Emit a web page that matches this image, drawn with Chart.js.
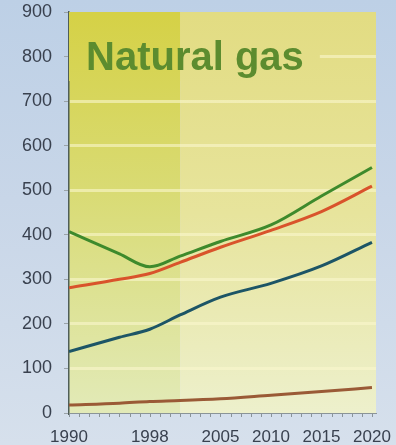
<!DOCTYPE html>
<html>
<head>
<meta charset="utf-8">
<script src="https://cdn.jsdelivr.net/npm/chart.js@4.4.1/dist/chart.umd.min.js"></script>
<style>
  html, body { margin: 0; padding: 0; }
  body {
    width: 396px; height: 445px; overflow: hidden;
    background: linear-gradient(180deg, #bdd0e6 0%, #c8d6e8 45%, #d6e0ec 100%);
  }
  canvas { display: block; }
</style>
</head>
<body>
<canvas id="gasChart" width="396" height="445"></canvas>
<script>
// Natural gas series, by year
const years = [1990, 1995, 1998, 2001, 2005, 2010, 2015, 2020];
const greenSeries = [407, 357, 328, 352, 385, 422, 487, 551];
const redSeries = [281, 300, 313, 338, 372, 410, 452, 509];
const blueSeries = [138, 170, 188, 220, 260, 291, 330, 383];
const brownSeries = [18, 22, 26, 28, 32, 40, 48, 57];
const xTickYears = [1990, 1998, 2005, 2010, 2015, 2020];
const historyEnd = 2001;
const titleText = 'Natural gas';

const toPoints = vals => vals.map((v, i) => ({ x: years[i], y: v }));

// paints the two shaded background bands (history / outlook)
function paintBands(chart, clip) {
  const { ctx, chartArea: a, scales: { x } } = chart;
  const split = x.getPixelForValue(historyEnd);
  ctx.save();
  if (clip) {
    ctx.beginPath();
    ctx.rect(clip.left, clip.top, clip.right - clip.left, clip.bottom - clip.top);
    ctx.clip();
  }
  let g = ctx.createLinearGradient(0, a.top, 0, a.bottom);
  g.addColorStop(0, '#d5d146');
  g.addColorStop(0.45, '#d9db74');
  g.addColorStop(1, '#e2eab8');
  ctx.fillStyle = g;
  ctx.fillRect(a.left, a.top, split - a.left, a.bottom - a.top);
  g = ctx.createLinearGradient(0, a.top, 0, a.bottom);
  g.addColorStop(0, '#e2dc82');
  g.addColorStop(0.5, '#e7e49c');
  g.addColorStop(1, '#edf0cc');
  ctx.fillStyle = g;
  ctx.fillRect(split, a.top, a.right - split, a.bottom - a.top);
  ctx.restore();
}

const backdrop = {
  id: 'backdrop',
  beforeDraw(chart) {
    paintBands(chart);
  },
  beforeDatasetsDraw(chart) {
    const { ctx, chartArea: a, scales: { y } } = chart;
    ctx.save();
    ctx.font = 'bold 40px "Liberation Sans", Arial, sans-serif';
    const w = ctx.measureText(titleText).width;
    const left = a.left + 17;
    const base = y.getPixelForValue(770);
    // mask the grid behind the heading
    paintBands(chart, { left: a.left, top: a.top, right: left + w + 16, bottom: y.getPixelForValue(745) });
    ctx.fillStyle = '#5c8c2f';
    ctx.textBaseline = 'alphabetic';
    ctx.fillText(titleText, left, base);
    ctx.restore();
  },
  afterDraw(chart) {
    // yearly minor ticks along the bottom axis
    const { ctx, chartArea: a, scales: { x } } = chart;
    ctx.save();
    ctx.strokeStyle = '#8a9498';
    ctx.lineWidth = 1;
    for (let yr = 1990; yr <= 2020; yr++) {
      const px = Math.round(x.getPixelForValue(yr)) + 0.5;
      ctx.beginPath();
      ctx.moveTo(px, a.bottom);
      ctx.lineTo(px, a.bottom + 4);
      ctx.stroke();
    }
    ctx.restore();
  }
};

const lineStyle = color => ({
  borderColor: color,
  borderWidth: 3,
  pointRadius: 0,
  fill: false,
  cubicInterpolationMode: 'monotone'
});

new Chart(document.getElementById('gasChart').getContext('2d'), {
  type: 'line',
  data: {
    datasets: [
      { label: 'brown', data: toPoints(brownSeries), ...lineStyle('#9a5a36') },
      { label: 'blue', data: toPoints(blueSeries), ...lineStyle('#1d5566') },
      { label: 'red', data: toPoints(redSeries), ...lineStyle('#d9532b') },
      { label: 'green', data: toPoints(greenSeries), ...lineStyle('#3e8a2c') }
    ]
  },
  options: {
    responsive: false,
    animation: false,
    layout: { padding: { top: 12, right: 20, left: 0, bottom: 0 } },
    plugins: { legend: { display: false }, tooltip: { enabled: false } },
    scales: {
      x: {
        type: 'linear',
        min: 1990,
        max: 2020.4,
        afterBuildTicks: s => { s.ticks = xTickYears.map(v => ({ value: v })); },
        afterFit: s => { s.height = 32; s.paddingRight = 0; s.paddingLeft = 0; },
        grid: { display: false },
        border: { display: true, color: '#8a9498', width: 1 },
        ticks: {
          padding: 6,
          color: '#39414f',
          font: { family: '"Liberation Sans", Arial, sans-serif', size: 17 },
          maxRotation: 0,
          autoSkip: false,
          callback: v => String(v)
        }
      },
      y: {
        min: 0,
        max: 900,
        afterFit: s => { s.width = 69; s.paddingTop = 0; s.paddingBottom = 0; },
        grid: {
          color: ctx => (ctx.tick.value === 0 || ctx.tick.value === 900) ? 'rgba(0,0,0,0)' : 'rgba(250,246,205,0.6)',
          lineWidth: 3,
          tickColor: '#9aa3a8',
          tickWidth: 1,
          tickLength: 5
        },
        border: { display: true, color: '#4f5e58', width: 1.5 },
        ticks: {
          stepSize: 100,
          padding: 12,
          color: '#39414f',
          font: { family: '"Liberation Sans", Arial, sans-serif', size: 18 }
        }
      }
    }
  },
  plugins: [backdrop]
});
</script>
</body>
</html>
